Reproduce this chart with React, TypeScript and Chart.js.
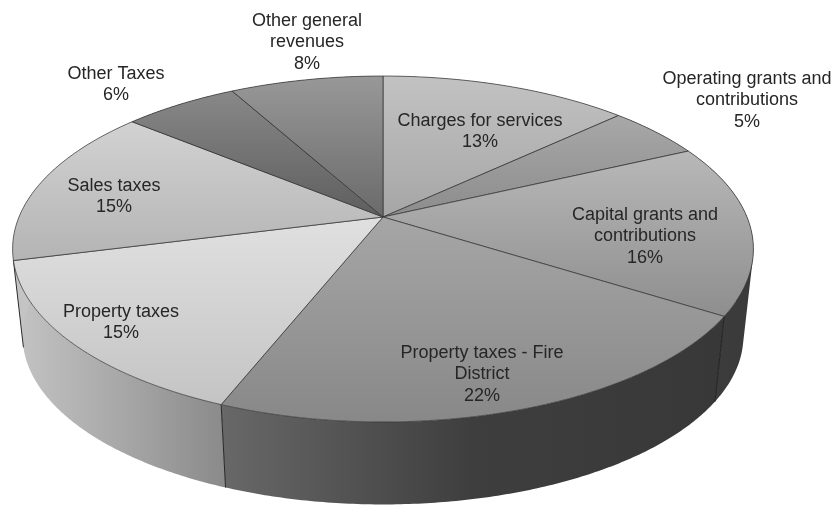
import React, { useEffect, useRef } from "react";
import { Chart, registerables } from "chart.js";

Chart.register(...registerables);

// Revenue shares, in percent, clockwise from twelve o'clock.
const categories = [
  "Charges for services",
  "Operating grants and contributions",
  "Capital grants and contributions",
  "Property taxes - Fire District",
  "Property taxes",
  "Sales taxes",
  "Other Taxes",
  "Other general revenues",
];
const shares = [13, 5, 16, 22, 15, 15, 6, 8];

// Wrapped label text for each slice.
const labelLines = [
  ["Charges for services"],
  ["Operating grants and", "contributions"],
  ["Capital grants and", "contributions"],
  ["Property taxes - Fire", "District"],
  ["Property taxes"],
  ["Sales taxes"],
  ["Other Taxes"],
  ["Other general", "revenues"],
];

// Shading of the top face (upper, lower) and the rim (left, middle, right).
const faceShades = [
  ["#c2c2c2", "#a6a6a6"],
  ["#a8a8a8", "#8c8c8c"],
  ["#b8b8b8", "#8e8e8e"],
  ["#a6a6a6", "#888888"],
  ["#e0e0e0", "#c4c4c4"],
  ["#d2d2d2", "#b4b4b4"],
  ["#888888", "#5e5e5e"],
  ["#989898", "#6a6a6a"],
];
const rimShades = [
  ["#888888", "#888888", "#888888"],
  ["#555555", "#555555", "#555555"],
  ["#3e3e3e", "#3c3c3c", "#3a3a3a"],
  ["#686868", "#3e3e3e", "#383838"],
  ["#c4c4c4", "#a8a8a8", "#8a8a8a"],
  ["#c4c4c4", "#c4c4c4", "#c4c4c4"],
  ["#555555", "#555555", "#555555"],
  ["#666666", "#666666", "#666666"],
];

// Label placement: centre x and the centre y of the first line.
const labelAnchors = [
  [480, 121],
  [747, 79],
  [645, 215],
  [482, 353],
  [121, 312],
  [114, 186],
  [116, 74],
  [307, 21],
];

const WIDTH = 835;
const HEIGHT = 506;
const LINE_HEIGHT = 21.4;

// Perspective view of the unit disc, pivoting on the pie's centre.
const CENTER_X = 383;
const CENTER_Y = 217;
const SPREAD_X = 364;
const SPREAD_Y = 126.9;
const TILT = -0.185;
// The lower rim is the same disc, slightly smaller and moved down.
const RIM_SCALE = 0.973;
const RIM_DROP = 88;

type Pt = [number, number];

function project(angle: number): Pt {
  const u = Math.cos(angle);
  const v = Math.sin(angle);
  const w = 1 + TILT * v;
  return [
    (SPREAD_X * u + CENTER_X * TILT * v + CENTER_X) / w,
    (SPREAD_Y * v + CENTER_Y) / w,
  ];
}

function lowered([x, y]: Pt): Pt {
  return [
    CENTER_X + RIM_SCALE * (x - CENTER_X),
    CENTER_Y + RIM_SCALE * (y - CENTER_Y) + RIM_DROP,
  ];
}

function rimPoints(start: number, end: number): Pt[] {
  const steps = Math.max(2, Math.ceil((end - start) / 0.01));
  const pts: Pt[] = [];
  for (let i = 0; i <= steps; i++) pts.push(project(start + ((end - start) * i) / steps));
  return pts;
}

function addPolygon(ctx: CanvasRenderingContext2D, pts: Pt[]) {
  pts.forEach(([x, y], i) => (i ? ctx.lineTo(x, y) : ctx.moveTo(x, y)));
  ctx.closePath();
}

function signedArea(pts: Pt[]) {
  return pts.reduce((sum, [x, y], i) => {
    const [nx, ny] = pts[(i + 1) % pts.length];
    return sum + x * ny - nx * y;
  }, 0);
}

// Paints the chart's arc elements as an extruded disc in perspective.
const perspectivePie = {
  id: "perspectivePie",
  beforeDatasetDraw(chart: Chart) {
    const ctx = chart.ctx;
    const arcs = chart.getDatasetMeta(0).data as any[];
    ctx.save();
    ctx.lineJoin = "round";

    // Side wall: a swept band of quads, all wound the same way so they merge.
    arcs.forEach((arc, i) => {
      const top = rimPoints(arc.startAngle, arc.endAngle);
      const xs = top.flatMap((p) => [p[0], lowered(p)[0]]);
      const g = ctx.createLinearGradient(Math.min(...xs), 0, Math.max(...xs), 0);
      rimShades[i].forEach((c, k) => g.addColorStop(k / 2, c));
      ctx.beginPath();
      for (let k = 0; k < top.length - 1; k++) {
        const quad: Pt[] = [top[k], top[k + 1], lowered(top[k + 1]), lowered(top[k])];
        addPolygon(ctx, signedArea(quad) < 0 ? quad.reverse() : quad);
      }
      ctx.fillStyle = g;
      ctx.fill("nonzero");
    });

    // Seams between slices on the part of the wall facing the viewer.
    ctx.strokeStyle = "rgba(25,25,25,0.9)";
    ctx.lineWidth = 1;
    arcs.forEach((arc) => {
      if (Math.sin(arc.startAngle) <= 0) return;
      const p = project(arc.startAngle);
      const q = lowered(p);
      ctx.beginPath();
      ctx.moveTo(p[0], p[1]);
      ctx.lineTo(q[0], q[1]);
      ctx.stroke();
    });

    // Top face.
    arcs.forEach((arc, i) => {
      const pts: Pt[] = [[CENTER_X, CENTER_Y], ...rimPoints(arc.startAngle, arc.endAngle)];
      const ys = pts.map((p) => p[1]);
      const g = ctx.createLinearGradient(0, Math.min(...ys), 0, Math.max(...ys));
      g.addColorStop(0, faceShades[i][0]);
      g.addColorStop(1, faceShades[i][1]);
      ctx.beginPath();
      addPolygon(ctx, pts);
      ctx.fillStyle = g;
      ctx.fill();
      ctx.strokeStyle = "rgba(50,50,50,0.8)";
      ctx.lineWidth = 0.9;
      ctx.stroke();
    });

    ctx.restore();
    return false;
  },
  afterDatasetsDraw(chart: Chart) {
    const ctx = chart.ctx;
    ctx.save();
    ctx.font = '18px "Liberation Sans"';
    ctx.fillStyle = "#262626";
    ctx.textAlign = "center";
    ctx.textBaseline = "middle";
    labelLines.forEach((lines, i) => {
      const [x, y] = labelAnchors[i];
      [...lines, `${shares[i]}%`].forEach((text, k) => {
        ctx.fillText(text, x, y + k * LINE_HEIGHT);
      });
    });
    ctx.restore();
  },
};

export default function App() {
  const ref = useRef<HTMLCanvasElement>(null);

  useEffect(() => {
    document.body.style.margin = "0";
    const chart = new Chart(ref.current!, {
      type: "pie",
      data: {
        labels: categories,
        datasets: [{ data: shares, backgroundColor: faceShades.map((s) => s[1]), borderWidth: 0 }],
      },
      options: {
        responsive: false,
        animation: false,
        plugins: { legend: { display: false }, tooltip: { enabled: false } },
      },
      plugins: [perspectivePie],
    });
    return () => chart.destroy();
  }, []);

  return (
    <div style={{ width: WIDTH, height: HEIGHT, background: "#ffffff" }}>
      <canvas ref={ref} width={WIDTH} height={HEIGHT} style={{ display: "block" }} />
    </div>
  );
}
